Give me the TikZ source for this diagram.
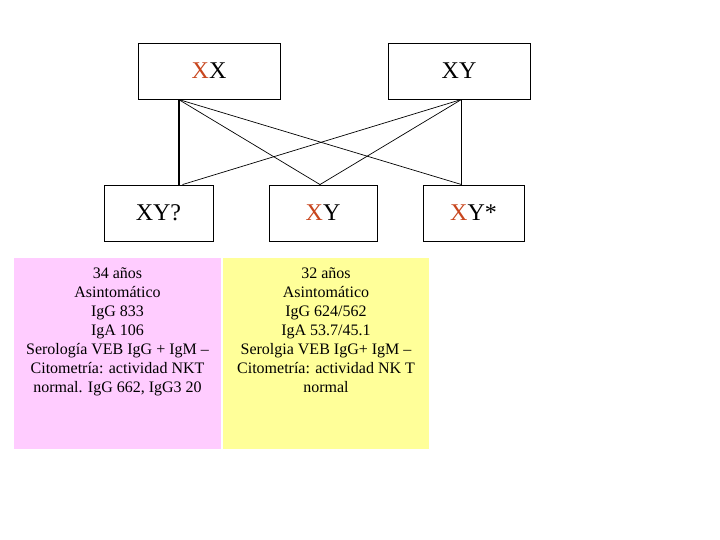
\documentclass[tikz,border=0pt]{standalone}
\usepackage{fontspec}
\setmainfont{Liberation Serif}
\usetikzlibrary{positioning,calc}
\definecolor{rust}{RGB}{200,70,30}
\definecolor{pinkfill}{RGB}{255,204,255}
\definecolor{lemon}{RGB}{255,255,153}
\begin{document}
\begin{tikzpicture}[x=1pt, y=-1pt,
      gbox/.style={rectangle, draw=black, line width=0.9pt, fill=white,
                   minimum width=142pt, minimum height=56pt, inner sep=0pt,
                   font=\fontsize{24}{28}\selectfont},
      kid/.style={gbox, minimum width=#1},
      panel/.style={rectangle, draw=none, minimum height=191pt, inner sep=0pt},
      info/.style={anchor=north, align=center, inner sep=0pt,
                   font=\fontsize{16}{19}\selectfont},
      link/.style={line width=0.7pt},
      trunk/.style={line width=2pt}]
    \useasboundingbox (0,0) rectangle (720,540);
    % ----- parents
    \node[gbox] (xx) at (209,71) {\textcolor{rust}{X}X};
    \node[gbox] (xy) at (459,71) {XY};
    % ----- children
    \node[kid=109pt] (son1) at (158.5,213) {XY?};
    \node[kid=108pt] (son2) at (323,213) {\textcolor{rust}{X}Y};
    \node[kid=101pt] (son3) at (473.5,213) {\textcolor{rust}{X}Y*};
    % ----- crossing lines
    \coordinate (xxfoot) at ($(xx.south west)+(41,0)$);
    \coordinate (xyfoot) at ($(xy.south west)+(74,0)$);
    \coordinate (s1top) at ($(son1.north west)+(75,0)$);
    \coordinate (s1topb) at ($(son1.north west)+(79,0)$);
    \coordinate (s2top) at ($(son2.north)+(-3,0)$);
    \coordinate (s3top) at ($(son3.north west)+(39,0)$);
    \draw[trunk] (xxfoot) -- (s1top);
    \draw[link] (xxfoot) -- (s2top);
    \draw[link] (xxfoot) -- (s3top);
    \draw[link] (xyfoot) -- (s1topb);
    \draw[link] (xyfoot) -- (s2top);
    \draw[link] (xyfoot) -- (s3top);
    % ----- clinical panels
    \node[panel, fill=pinkfill, minimum width=207pt] (p1) at (117.5,353.5) {};
    \node[panel, fill=lemon, minimum width=206pt] (p2) at (326,353.5) {};
    \node[info] (t1) at ($(p1.north)+(0,9.5)$)
      {34 años\\ Asintomático\\ IgG 833\\ IgA 106\\
       Serología VEB IgG + IgM --\\ Citometría: actividad NKT\\
       normal. IgG 662, IgG3 20};
    \node[info] (t2) at ($(p2.north)+(0,9.5)$)
      {32 años\\ Asintomático\\ IgG 624/562\\ IgA 53.7/45.1\\
       Serolgia VEB IgG+ IgM --\\ Citometría: actividad NK T\\
       normal};
  \end{tikzpicture}
\end{document}
